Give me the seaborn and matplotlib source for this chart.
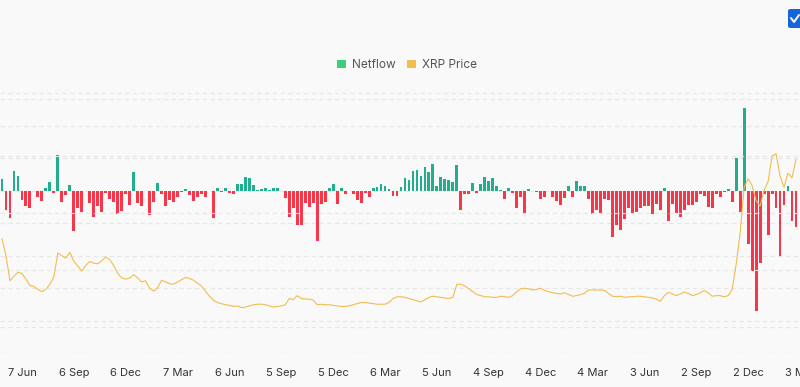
import numpy as np
import pandas as pd
import matplotlib
matplotlib.use("Agg")
import matplotlib.pyplot as plt
import matplotlib.dates as mdates
from matplotlib.patches import Patch, FancyBboxPatch
from matplotlib.lines import Line2D
import seaborn as sns

# ---------------- data ----------------
first_week = "2021-05-03"   # weekly bars, Mondays

netflow = [
    36, -61, -84, 61, 44, -29, -49, -54, -2, -19,
    -31, 9, 26, -9, 108, -36, -14, 16, -126, -54,
    -66, -1, -39, -81, -49, -66, -7, -26, -36, -71,
    -62, -12, -44, 56, -39, -49, -1, -76, -34, 24,
    -12, -49, -29, -36, -19, -4, 5, -14, -31, -19,
    -12, -19, -2, -84, 9, -4, 9, -7, -11, 19,
    19, 43, 37, 16, 2, 4, 8, 2, 8, 8,
    0, -24, -81, -54, -105, -105, -39, -52, -37, -156,
    -42, -36, 7, 21, -42, 8, -10, 0, -12, -30,
    -39, -9, -21, 7, 10, 21, 14, 5, -17, -17,
    10, 40, 31, 60, 62, 46, 72, 57, 83, 15,
    41, 36, 32, 26, 77, -61, -12, -10, 24, -9,
    21, 43, 28, 39, 13, 3, -27, 7, -7, -54,
    -19, -68, 6, -3, -4, -26, -21, -2, -19, -31,
    -46, -22, 13, -21, 28, 13, 13, -27, -71, -59,
    -68, -26, -28, -144, -105, -122, -89, -53, -73, -65,
    -55, -48, -48, -73, -40, -59, 8, -95, -41, -70,
    -80, -60, -45, -44, -34, -12, -16, -50, -53, -12,
    -19, -6, 4, -36, 99, -65, 253, -166, -247, -370,
    -224, -12, -137, -12, -55, -200, -45, 14, -93, -113,
]

xrp_price = [
    1.55, 1.25, 0.81, 0.89, 0.96, 0.94, 0.84, 0.73, 0.71, 0.66,
    0.62, 0.66, 0.75, 0.88, 1.30, 1.25, 1.21, 1.31, 1.15, 1.07,
    0.98, 1.08, 1.15, 1.12, 1.11, 1.16, 1.23, 1.18, 1.08, 0.94,
    0.86, 0.84, 0.86, 0.92, 0.86, 0.79, 0.81, 0.68, 0.63, 0.69,
    0.82, 0.79, 0.76, 0.75, 0.79, 0.83, 0.87, 0.85, 0.82, 0.77,
    0.72, 0.63, 0.54, 0.47, 0.43, 0.41, 0.39, 0.38, 0.36, 0.37,
    0.34, 0.35, 0.37, 0.39, 0.40, 0.40, 0.39, 0.37, 0.35, 0.36,
    0.37, 0.39, 0.50, 0.48, 0.55, 0.50, 0.49, 0.49, 0.47, 0.39,
    0.40, 0.39, 0.39, 0.38, 0.37, 0.36, 0.36, 0.37, 0.39, 0.41,
    0.43, 0.43, 0.42, 0.41, 0.40, 0.40, 0.40, 0.43, 0.50, 0.53,
    0.53, 0.52, 0.50, 0.48, 0.46, 0.44, 0.48, 0.52, 0.54, 0.53,
    0.52, 0.51, 0.50, 0.52, 0.75, 0.75, 0.72, 0.67, 0.62, 0.57,
    0.55, 0.53, 0.53, 0.52, 0.52, 0.54, 0.53, 0.52, 0.55, 0.62,
    0.67, 0.68, 0.67, 0.65, 0.66, 0.68, 0.64, 0.62, 0.60, 0.59,
    0.58, 0.60, 0.57, 0.54, 0.55, 0.57, 0.59, 0.65, 0.65, 0.65,
    0.65, 0.64, 0.59, 0.54, 0.53, 0.54, 0.52, 0.53, 0.53, 0.54,
    0.54, 0.53, 0.52, 0.51, 0.49, 0.45, 0.55, 0.61, 0.58, 0.55,
    0.58, 0.61, 0.59, 0.55, 0.57, 0.60, 0.64, 0.60, 0.54, 0.55,
    0.55, 0.53, 0.55, 0.66, 1.10, 1.65, 2.45, 2.60, 2.48, 2.22,
    2.12, 2.40, 2.55, 3.00, 3.04, 2.65, 2.45, 2.70, 2.62, 2.94,
]

tick_dates = [
    "2021-06-07", "2021-09-06", "2021-12-06", "2022-03-07", "2022-06-06",
    "2022-09-05", "2022-12-05", "2023-03-06", "2023-06-05", "2023-09-04",
    "2023-12-04", "2024-03-04", "2024-06-03", "2024-09-02", "2024-12-02",
    "2025-03-03",
]
tick_labels = [
    "7 Jun", "6 Sep", "6 Dec", "7 Mar", "6 Jun", "5 Sep", "5 Dec", "6 Mar",
    "5 Jun", "4 Sep", "4 Dec", "4 Mar", "3 Jun", "2 Sep", "2 Dec", "3 Mar",
]
legend_labels = ["Netflow", "XRP Price"]

# ---------------- style ----------------
BG = "#f9f9f9"
GREEN = "#22ad8f"
RED = "#f5364b"
GOLD = "#f0bd50"
LEG_GREEN = "#3ccd7e"
LEG_GOLD = "#f0c04f"
GRID = "#e6e6e6"

sns.set_theme(style="white")
plt.rcParams["font.family"] = ["Inter", "DejaVu Sans"]

dates = pd.date_range(first_week, periods=len(netflow), freq="7D")
df = pd.DataFrame({"date": dates, "netflow": netflow, "price": xrp_price})
df["num"] = mdates.date2num(df["date"])
df["sign"] = np.where(df["netflow"] >= 0, "in", "out")

W, H = 800, 387
fig = plt.figure(figsize=(W / 100, H / 100), dpi=100, facecolor=BG)
ax = fig.add_axes([0, (H - 353) / H, 1, 260 / H])
ax.set_facecolor(BG)

sns.barplot(
    data=df, x="num", y="netflow", hue="sign",
    palette={"in": GREEN, "out": RED}, native_scale=True,
    width=0.72, errorbar=None, legend=False, saturation=1,
    linewidth=0, ax=ax,
)

ax2 = ax.twinx()
ax2.patch.set_visible(False)
sns.lineplot(data=df, x="num", y="price", color=GOLD, linewidth=0.8, ax=ax2)

step = df["num"].iloc[1] - df["num"].iloc[0]
xmin, xmax = df["num"].iloc[0] - step / 2, df["num"].iloc[-1] + step / 2
for a in (ax, ax2):
    a.set_xlim(xmin, xmax)
    for s in a.spines.values():
        s.set_visible(False)
    a.set_xlabel("")
    a.set_ylabel("")

ax.set_ylim(-500, 300)
ax.set_yticks(np.arange(-500, 301, 100))
ax2.set_ylim(-0.456, 4.105)
ax2.set_yticks([0, 1, 2, 3, 4])
ax.grid(axis="y", color=GRID, linestyle=(0, (4, 3)), linewidth=0.8)
ax2.grid(axis="y", color=GRID, linestyle=(0, (4, 3)), linewidth=0.8)
ax.set_axisbelow(True)
ax.grid(axis="x", visible=False)
ax2.grid(axis="x", visible=False)

ax.tick_params(axis="y", left=False, labelleft=False)
ax2.tick_params(axis="y", right=False, labelright=False)
ax.set_xticks(mdates.date2num(pd.to_datetime(tick_dates)))
ax.set_xticklabels(tick_labels)
ax.tick_params(axis="x", bottom=False, pad=5, labelsize=8, labelcolor="#333333")
ax2.tick_params(axis="x", bottom=False, labelbottom=False)

handles = [
    Patch(facecolor=LEG_GREEN, edgecolor="none"),
    Patch(facecolor=LEG_GOLD, edgecolor="none"),
]
fig.legend(
    handles, legend_labels, loc="center", bbox_to_anchor=(0.5 + 7 / W, 1 - 65 / H),
    ncol=2, frameon=False, fontsize=8.5, handlelength=0.75, handleheight=0.75,
    handletextpad=0.5, columnspacing=1.0, labelcolor="#555555",
)

# UI checkbox at the top-right corner
box = FancyBboxPatch(
    (788 / W, 1 - 28 / H), 20 / W, 19 / H,
    boxstyle="round,pad=0,rounding_size=0.004", transform=fig.transFigure,
    facecolor="#1565d8", edgecolor="none",
)
fig.patches.append(box)
fig.lines.append(Line2D([791 / W, 794 / W, 799 / W], [1 - 18 / H, 1 - 22 / H, 1 - 15 / H],
                        transform=fig.transFigure, color="white", linewidth=1.4))

fig.savefig("out.png", dpi=100, facecolor=BG)
